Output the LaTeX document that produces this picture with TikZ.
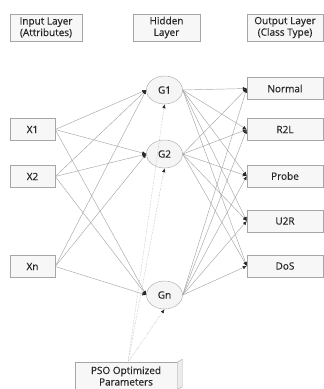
\documentclass[tikz,border=0pt]{standalone}
\usepackage{fontspec}
\setmainfont{Open Sans}
\newfontfamily\labelfont{Open Sans}[FakeBold=0.35]
\usetikzlibrary{arrows.meta,shapes.geometric}

\begin{document}
\begin{tikzpicture}[
  x=1pt, y=-1pt,
  font=\labelfont\fontsize{10}{11.5}\selectfont,
  >={Latex[length=4pt,width=3.4pt,color=black!85]},
  hdrbox/.style  = {
    draw=gray!70, fill=gray!6,
    align=center, inner sep=1pt,
    minimum height=27pt, text=black!85
  },
  layerbox/.style = {
    draw=gray!70, fill=gray!6,
    inner sep=1pt, minimum height=22pt, text=black!85
  },
  neuron/.style = {
    ellipse, draw=gray!70, fill=gray!8,
    minimum width=36pt, minimum height=28pt,
    inner sep=0pt, text=black!85
  },
  wire/.style  = {->, draw=gray!70, line width=0.45pt},
  pso/.style   = {->, draw=gray!60, line width=0.5pt, densely dotted}
]
\useasboundingbox (0,0) rectangle (324,389);

% ---- constants ----
\def\xin{32.5}    % input column
\def\xhid{164.5}  % hidden column
\def\xout{285}    % output column

% ---- headers ----
\node[hdrbox, minimum width=72pt] (hdrIn)  at (46,27.5)    {Input Layer\\(Attributes)};
\node[hdrbox, minimum width=67pt] (hdrHid) at (166.5,27.5) {Hidden\\Layer};
\node[hdrbox, minimum width=76pt] (hdrOut) at (\xout,27.5) {Output Layer\\(Class Type)};

% ---- input layer ----
\node[layerbox, minimum width=45pt] (x1) at (\xin,129.5) {X1};
\node[layerbox, minimum width=45pt] (x2) at (\xin,176.5) {X2};
\node[layerbox, minimum width=45pt] (xn) at (\xin,266.5) {Xn};

% ---- hidden layer ----
\node[neuron] (g1) at (\xhid,90)  {G1};
\node[neuron] (g2) at (\xhid,154) {G2};
\node[neuron] (gn) at (\xhid,295) {Gn};

% ---- output layer ----
\node[layerbox, minimum width=76pt] (normal) at (\xout,88.5)  {Normal};
\node[layerbox, minimum width=76pt] (r2l)    at (\xout,129.5) {R2L};
\node[layerbox, minimum width=76pt] (probe)  at (\xout,176)   {Probe};
\node[layerbox, minimum width=76pt] (u2r)    at (\xout,221)   {U2R};
\node[layerbox, minimum width=76pt] (dos)    at (\xout,266)   {DoS};

% ---- optimiser box (with side face) ----
\node[layerbox, minimum width=102pt, minimum height=27pt, align=center] (pso) at (126,376) {PSO Optimized\\Parameters};
\draw[draw=gray!70, fill=gray!15]
  (pso.north east) -- ++(5,-3) -- ([xshift=5pt,yshift=3pt]pso.south east) -- (pso.south east) -- cycle;

% ---- connections ----
\foreach \i in {x1,x2,xn}
  \foreach \h in {g1,g2,gn}
    \draw[wire] (\i.east) -- (\h.west);

\foreach \h in {g1,g2,gn}
  \foreach \o in {normal,r2l,probe,u2r,dos}
    \draw[wire] (\h.east) -- (\o.west);

% PSO -> hidden
\foreach \h in {g1,g2,gn}
  \draw[pso] ([xshift=2pt]pso.north) -- (\h.south);

\end{tikzpicture}
\end{document}
